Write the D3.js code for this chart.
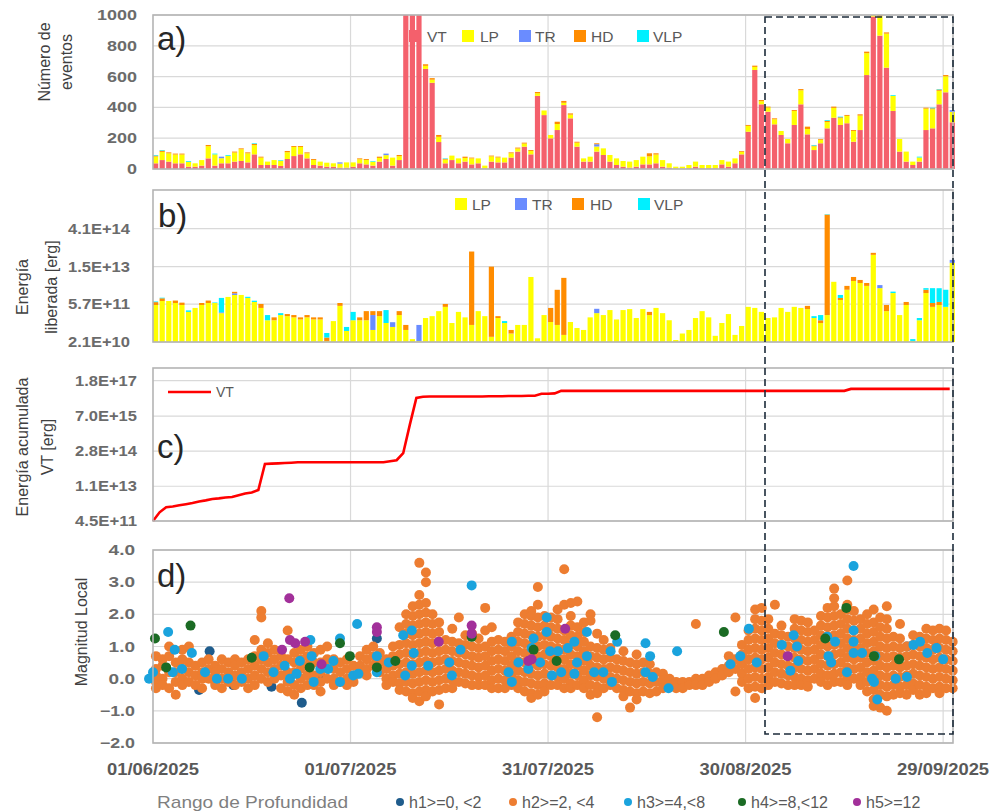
<!DOCTYPE html>
<html>
<head>
<meta charset="utf-8">
<script src="https://cdn.jsdelivr.net/npm/d3@7"></script>
<style>
  body { margin: 0; background: #fff; }
  text { font-family: "Liberation Sans", Arial, sans-serif; }
</style>
</head>
<body>
<svg id="chart" width="997" height="812"></svg>
<script>
// ---- data ----
// one entry per day, starting 01/06/2025
var startDay = new Date(2025, 5, 1);
var dateTicks = ["01/06/2025", "01/07/2025", "31/07/2025", "30/08/2025", "29/09/2025"];

// a) number of events per day
var vtCount = [37,58,48,37,37,15,15,22,69,22, 37,37,48,52,43,95,26,26,26,20,
  65,84,95,69,26,22,15,15,9,9, 15,37,30,22,48,65,22,58,1380,1330,
  1180,650,560,175,37,58,37,48,30,37, 4,48,43,43,74,113,145,95,475,350,
  199,253,415,329,145,48,48,113,91,48, 26,15,9,15,30,30,37,15,9,4,
  3,5,15,5,5,5,30,15,37,95, 242,643,420,372,290,221,167,286,420,225,
  123,167,264,333,286,297,177,253,610,990, 866,658,377,113,48,26,48,253,264,420,
  498,303];
var lpCount = [44,53,54,57,57,32,22,36,79,73, 33,49,59,76,59,60,48,22,32,34,
  44,59,48,33,33,26,26,22,26,34, 28,26,29,26,24,25,52,25,20,20,
  20,20,20,34,24,29,32,24,39,32, 18,34,32,31,28,20,20,22,17,30,
  22,39,15,24,26,21,32,33,43,43, 43,37,39,43,50,52,57,43,28,11,
  12,21,33,21,21,21,28,33,32,17, 38,20,20,27,33,26,28,91,91,35,
  24,23,41,64,44,48,70,94,142,30, 126,221,98,82,65,22,27,139,124,88,
  104,68];
// sparse [day, count]
var trCount = [[10,10],[28,8],[35,10],[67,15],[121,12]];
var hdCount = [[0,6],[1,8],[2,6],[3,6],[4,6],[8,8],[12,6],[13,6],[14,6],[15,8],[16,6],
  [20,8],[21,6],[22,6],[23,6],[24,6],[31,6],[32,6],[34,8],[37,8],[41,10],[42,10],[43,12],
  [44,5],[47,8],[48,5],[51,5],[52,5],[54,6],[55,6],[56,6],[57,6],[58,8],[61,15],[62,12],
  [63,8],[64,6],[67,6],[75,20],[76,8],[89,5],[90,6],[91,8],[92,8],[93,6],[94,6],[97,6],
  [98,8],[99,15],[100,5],[101,5],[102,8],[103,8],[104,6],[105,6],[106,6],[107,8],[108,10],
  [110,8],[111,8],[117,6],[118,6],[119,8],[120,8]];
var vlpCount = [[0,4],[1,4],[5,5],[9,5],[11,5],[15,4],[19,4],[33,4],[44,3],[100,4],
  [102,5],[104,4],[112,5],[116,5],[118,4],[119,3]];

// b) released energy per day [erg]
var lpEnergy = [5.3e11,7.5e11,7.5e11,6.3e11,5.3e11,2.9e11,4.1e11,5.3e11,6.3e11,6.3e11,
  2.6e11,1.07e12,1.27e12,1.27e12,9.8e11,6.9e11,4.1e11,1.4e11,1.4e11,2.2e11,
  2.0e11,1.8e11,1.5e11,1.8e11,1.5e11,1.5e11,2.3e10,1.3e11,4.9e11,5.5e10,
  1.4e11,1.4e11,1.4e11,6.0e10,2.0e11,1.1e11,7.8e10,2.2e11,6.0e10,2.7e10,
  2.3e10,1.7e11,2.0e11,3.1e11,4.5e11,1.1e11,2.9e11,1.8e11,9.3e10,3.1e11,
  2.0e11,3.3e10,1.7e11,1.1e11,4.4e10,9.3e10,9.3e10,6.1e12,2.9e10,2.2e11,
  1.2e11,9.3e10,3.9e10,1.2e11,7.1e10,6.0e10,1.8e11,2.6e11,2.2e11,3.4e11,
  1.5e11,3.4e11,3.7e11,1.7e11,3.7e11,2.2e11,4.1e11,2.6e11,1.4e11,2.5e10,
  4.4e10,6.0e10,1.7e11,3.1e11,1.8e11,3.6e10,1.1e11,2.4e11,3.9e10,8.5e10,
  4.5e11,4.1e11,2.9e11,1.7e11,1.8e11,4.1e11,2.9e11,4.5e11,4.1e11,3.7e11,
  1.7e11,1.1e11,2.2e11,4.0e12,8.2e11,2.0e12,4.3e12,3.6e12,2.8e12,4.2e13,
  2.3e12,3.1e11,1.5e12,2.2e11,5.3e11,2.3e10,1.4e11,1.5e12,4.5e11,5.3e11,
  4.5e11,2.1e13];
var trEnergy = [[10,2e10],[12,2e11],[33,1.6e11],[36,4e10],[40,7e10],[67,1.2e11],[110,7e11],[121,6e12]];
var hdEnergy = [[0,1.5e11],[1,2.0e11],[3,1.5e11],[4,1.2e11],[7,1.0e11],[8,1.5e11],[12,2.0e11],
  [16,1.7e11],[18,4e10],[20,4e10],[21,4e10],[22,3e10],[23,4e10],[24,3e10],[25,3e10],[26,8e9],
  [28,1.4e11],[31,4e10],[32,1.7e11],[33,9e10],[34,1.1e11],[37,9e10],[38,3.3e10],[44,1.3e11],
  [48,5.6e13],[51,1.5e13],[52,3e10],[54,1.6e10],[60,2.9e11],[61,1.9e12],[62,5.6e12],[75,7e10],
  [99,1.2e11],[101,3e10],[102,1.4e15],[104,1.6e11],[105,8e11],[106,1.8e12],[107,1.1e12],
  [108,8e11],[109,8e12],[111,2.2e11],[114,1.6e11],[117,5e11],[118,1.8e11],[119,1.6e11]];
var vlpEnergy = [[0,4e10],[1,5e10],[5,4e10],[9,3e10],[10,7.0e11],[14,1e11],[15,8e10],[17,8e10],
  [19,4e10],[26,1.5e10],[29,2.3e10],[30,1.5e11],[35,2.3e11],[53,2e10],[100,3e10],[101,8e10],
  [102,5e13],[104,2.9e11],[112,2e11],[115,4e9],[116,3e10],[117,3e11],[118,1.67e12],
  [119,1.6e12],[120,1.55e12]];

// c) accumulated VT energy [erg]
var vtCumulative = [4.5e11,1.0e12,1.6e12,1.7e12,1.9e12,2.1e12,2.35e12,2.7e12,3.0e12,3.4e12,
  3.6e12,3.9e12,4.1e12,4.8e12,5.6e12,6.2e12,7.8e12,8.5e13,8.8e13,9.0e13,
  9.3e13,9.6e13,1.0e14,1.0e14,1.0e14,1.0e14,1.0e14,1.0e14,1.0e14,1.0e14,
  1.0e14,1.0e14,1.0e14,1.0e14,1.0e14,1.0e14,1.1e14,1.2e14,2.3e14,3.1e15,
  3.7e16,4.1e16,4.2e16,4.2e16,4.2e16,4.2e16,4.2e16,4.2e16,4.2e16,4.2e16,
  4.2e16,4.3e16,4.3e16,4.3e16,4.4e16,4.4e16,4.4e16,4.5e16,4.5e16,5.4e16,
  5.4e16,5.6e16,7.1e16,7.1e16,7.1e16,7.1e16,7.1e16,7.1e16,7.1e16,7.1e16,
  7.1e16,7.1e16,7.1e16,7.1e16,7.1e16,7.1e16,7.1e16,7.1e16,7.1e16,7.1e16,
  7.1e16,7.1e16,7.1e16,7.1e16,7.1e16,7.1e16,7.1e16,7.1e16,7.1e16,7.1e16,
  7.1e16,7.1e16,7.1e16,7.1e16,7.1e16,7.1e16,7.1e16,7.1e16,7.1e16,7.1e16,
  7.1e16,7.1e16,7.1e16,7.1e16,7.1e16,7.1e16,8.5e16,8.5e16,8.5e16,8.5e16,
  8.5e16,8.5e16,8.5e16,8.5e16,8.5e16,8.5e16,8.5e16,8.5e16,8.5e16,8.5e16,
  8.5e16,8.5e16];

// d) local magnitude, h2 (2-4 km) by day
var h2Mag = [
  [0.7,0.3,0.1,-0.1,-0.3],[0.6,0.4,0.0,-0.2],[1.0,0.7,0.2,-0.3],[0.5,0.2,-0.1,-0.5],[0.9,0.6,0.3,0.0,-0.2],
  [1.0,0.5,0.2,-0.1],[0.4,0.1,-0.2],[0.5,0.2,0.0,-0.3],[0.6,0.3,0.0],[0.4,0.2,-0.1,-0.2],
  [0.6,0.3,0.0,-0.3],[0.5,0.2,-0.1],[0.6,0.4,0.1,-0.2],[0.5,0.2,-0.1],[0.6,0.3,0.0,-0.3],
  [1.2,0.7,0.4,0.1,-0.2],[2.1,1.9,0.9,0.6,0.3,0.0],[1.1,0.8,0.5,0.2,-0.1],[0.9,0.6,0.3,0.0],[0.7,0.4,0.1,-0.3],
  [1.5,0.6,0.2,-0.1,-0.4],[0.8,0.5,0.2,-0.2,-0.5],[0.9,0.6,0.3,0.0,-0.3],[1.0,0.7,0.4,0.1,-0.2],[0.8,0.5,0.1,-0.2],
  [0.9,0.5,0.2,-0.1,-0.4],[1.0,0.6,0.3,0.0],[0.6,0.3,0.0,-0.2],[0.5,0.2,-0.1],[0.6,0.3,0.0,-0.2],
  [0.4,0.1,-0.1],[0.7,0.4,0.2],[0.9,0.6,0.3,0.1],[1.0,0.7,0.4],[0.8,0.5,0.2],
  [0.6,0.3,0.0,-0.2],[1.0,0.7,0.4,0.1,-0.1],[1.6,1.05,0.75,0.45,0.15,-0.15,-0.35],
  [2.0,1.7,1.4,1.1,0.8,0.5,0.2,-0.1,-0.4],[2.25,1.95,1.65,1.35,1.05,0.75,0.45,0.15,-0.15,-0.45,-0.6],
  [3.6,2.6,2.3,2.0,1.7,1.4,1.1,0.8,0.5,0.2,-0.1,-0.4,-0.7],[3.3,3.0,2.35,2.05,1.75,1.45,1.15,0.85,0.55,0.25,-0.05,-0.35,-0.55],
  [2.0,1.7,1.4,1.1,0.8,0.5,0.2,-0.1,-0.4],[1.75,1.45,1.15,0.85,0.55,0.25,-0.05,-0.35,-0.8],[1.2,0.9,0.6,0.3,0.0,-0.3],
  [1.55,1.15,0.85,0.55,0.25,-0.05,-0.3],[1.9,1.1,0.8,0.5,0.2,-0.1],[1.35,1.05,0.75,0.45,0.15,-0.15],[1.4,1.0,0.7,0.4,0.1,-0.2],
  [1.25,0.95,0.65,0.35,0.05,-0.2],[2.2,1.5,1.0,0.7,0.4,0.1,-0.2],[1.6,1.15,0.85,0.55,0.25,-0.05,-0.3],[1.2,0.9,0.6,0.3,0.0,-0.3],
  [1.15,0.85,0.55,0.25,-0.05,-0.3],[1.3,1.0,0.7,0.4,0.1,-0.2],[1.75,1.45,1.15,0.85,0.55,0.25,-0.05,-0.3],
  [2.0,1.7,1.4,1.1,0.8,0.5,0.2,-0.1,-0.4],[2.1,1.95,1.65,1.35,1.05,0.75,0.45,0.15,-0.15,-0.45,-0.6],
  [2.85,2.3,1.9,1.6,1.3,1.0,0.7,0.4,0.1,-0.2,-0.5],[1.95,1.65,1.35,1.05,0.75,0.45,0.15,-0.15,-0.4],
  [1.9,1.6,1.3,1.0,0.7,0.4,0.1,-0.2],[2.15,1.85,1.55,1.25,0.95,0.65,0.35,0.05,-0.2],[3.4,2.3,1.5,1.2,0.9,0.6,0.3,0.0,-0.3],
  [2.35,1.95,1.65,1.35,1.05,0.75,0.45,0.15,-0.15,-0.3],[2.4,1.6,1.3,1.0,0.7,0.4,0.1,-0.2],[1.75,1.45,1.15,0.85,0.55,0.25,-0.05,-0.3],
  [2.0,1.8,1.0,0.7,0.4,0.1,-0.2,-0.5],[1.4,0.95,0.65,0.35,0.05,-0.25,-0.45,-1.2],[1.2,0.9,0.6,0.3,0.0,-0.3],
  [0.95,0.65,0.35,0.05,-0.2],[0.6,0.3,0.0,-0.3],[0.85,0.55,0.25,-0.05,-0.35,-0.55],[0.5,0.2,-0.1,-0.4,-0.9],[0.75,0.45,0.15,-0.15,-0.45,-0.65],
  [0.5,0.2,-0.1,-0.4],[0.45,0.15,-0.15,-0.45],[0.2,-0.1,-0.4],[0.15,-0.05,-0.3],[0.0,-0.2],
  [-0.1,-0.3],[-0.1,-0.3],[-0.1,-0.2],[1.7,0.0,-0.2],[0.0,-0.2],
  [0.1,-0.1],[0.2,0.0],[0.3,0.1],[0.7,0.4,0.2],[1.9,0.6,0.3,-0.4],
  [1.05,0.75,0.45,0.15,-0.1],[1.5,1.2,0.9,0.6,0.3,0.0,-0.3],[2.15,1.85,1.55,1.25,0.95,0.65,0.35,0.05,-0.25,-0.6],
  [2.2,1.8,1.5,1.2,0.9,0.6,0.3,0.0,-0.3],[1.85,1.55,1.25,0.95,0.65,0.35,0.05,-0.2],[2.3,1.4,1.1,0.8,0.5,0.2,-0.1],
  [1.65,1.35,1.05,0.75,0.45,0.15,-0.15],[1.3,1.0,0.7,0.4,0.1,-0.2],[1.85,1.55,1.25,0.95,0.65,0.35,0.05,-0.2],
  [1.8,1.5,1.2,0.9,0.6,0.3,0.0,-0.2],[1.75,1.45,1.15,0.85,0.55,0.25,-0.05,-0.25],[1.5,1.2,0.9,0.6,0.3,0.0],
  [1.95,1.65,1.35,1.05,0.75,0.45,0.15,-0.1],[2.2,1.9,1.6,1.3,1.0,0.7,0.4,0.1,-0.2],[2.8,2.5,2.25,1.95,1.65,1.35,1.05,0.75,0.45,0.15,-0.1],
  [2.0,1.7,1.4,1.1,0.8,0.5,0.2,-0.1],[3.05,2.3,2.15,1.85,1.55,1.25,0.95,0.65,0.35,0.05,-0.2],[2.1,1.8,1.5,1.2,0.9,0.6,0.3,0.0],
  [1.85,1.55,1.25,0.95,0.65,0.35,0.05,-0.2],[2.0,1.7,1.4,1.1,0.8,0.5,0.2,-0.1,-0.4],[2.15,1.75,1.45,1.15,0.85,0.55,0.25,-0.05,-0.35,-0.65,-0.85],
  [1.9,1.6,1.3,1.0,0.7,0.4,0.1,-0.2,-0.5,-0.9],[2.25,1.85,1.55,1.25,0.95,0.65,0.35,0.05,-0.25,-0.55,-1.0],[1.3,1.0,0.7,0.4,0.1,-0.2,-0.5],
  [1.7,1.25,0.95,0.65,0.35,0.05,-0.25,-0.45],[1.0,0.7,0.4,0.1,-0.2,-0.5],[1.35,1.05,0.75,0.45,0.15,-0.15,-0.35],
  [1.3,1.0,0.7,0.4,0.1,-0.2,-0.5],[1.55,1.25,0.95,0.65,0.35,0.05,-0.25,-0.45],[1.5,1.2,0.9,0.6,0.3,0.0,-0.3],
  [1.55,1.25,0.95,0.65,0.35,0.05,-0.25,-0.45],[1.5,1.2,0.9,0.6,0.3,0.0,-0.3],[1.15,0.85,0.55,0.25,-0.05,-0.3]
];
// other depth ranges: [day offset, magnitude]
var h1Mag = [[7,-0.35],[8.6,0.85],[12.2,-0.2],[18,-0.25],[22.6,-0.75],[25.4,0.1],[34,1.25],[114.5,1.0],[119,1.0]];
var h3Mag = [[-0.6,0.0],[0,0.2],[2.3,1.45],[3.3,0.9],[3,0.2],[4.4,0.3],[5.9,0.8],[7.9,0.2],[9.7,0.0],[11.4,0.0],
  [13.5,0.0],[16.8,0.7],[18.3,0.2],[20,0.4],[20.8,0.0],[21.8,0.15],[22.3,0.55],[23.9,1.2],[24.1,0.7],[24.4,-0.1],
  [25.4,0.3],[26.6,0.3],[27.4,0.55],[28.4,1.25],[28.4,-0.1],[30.4,0.1],[31,1.7],[31.2,0.15],[34,0.7],[34,0.2],
  [35.8,0.5],[38,1.35],[39.3,1.5],[39.6,0.8],[39.3,0.4],[38.3,0.1],[41.8,0.4],[45,0.5],[45.4,0.1],[46.7,0.9],
  [48.4,2.9],[54.5,1.15],[59.8,1.9],[59.8,1.45],[57.8,1.25],[57.5,0.95],[60.3,0.85],[61.5,0.85],[58.8,0.5],[55.5,0.5],
  [54,0.2],[54.5,-0.1],[57,0.3],[60.6,0.1],[62,0.2],[63,0.95],[64,1.15],[64.4,0.5],[64,0.15],[65.9,1.45],
  [65.9,0.7],[67,0.2],[68.4,0.2],[69.5,0.85],[69.7,-0.1],[70.5,1.15],[74.8,1.1],[75.5,0.7],[74.8,0.2],[75.9,0.05],
  [78.3,-0.3],[79.6,0.85],[87.7,0.45],[89.2,0.7],[90.5,1.55],[91.7,0.5],[95.5,1.05],[97.3,1.35],[97.8,1.0],[98,0.55],
  [96.8,0.25],[102.4,1.3],[103.6,1.15],[102.6,0.7],[103,0.5],[105.4,0.2],[106.4,3.5],[106.4,1.5],[106.4,1.15],[106.4,0.8],
  [107.7,0.8],[109.2,0.0],[109.5,-0.1],[110,-0.65],[109.7,0.7],[112.8,0.0],[114.5,0.05],[115.5,1.05],[116.5,1.15],[117.6,0.8],
  [119,0.95],[120,0.6]];
var h4Mag = [[0.3,1.25],[2,0.35],[5.7,1.65],[15,0.65],[23.8,0.35],[28.4,1.1],[29.9,0.7],[34,0.35],[36.8,0.55],[48.4,1.3],
  [57.8,0.9],[61.3,0.55],[70.2,1.35],[86.7,1.45],[102.1,1.25],[105.3,2.2],[109.5,0.7],[113.3,0.6]];
var h5Mag = [[20.7,2.5],[19.6,0.9],[20.8,1.2],[21.6,1.1],[23.1,1.15],[25.6,0.45],[34,1.6],[34,1.45],[43.4,1.15],
  [48.4,1.65],[48.4,1.4],[62.6,1.55],[57,0.55],[57.5,0.6],[96.4,0.7]];

var depthLegend = ["h1>=0, <2", "h2>=2, <4", "h3>=4,<8", "h4>=8,<12", "h5>=12"];

// ---- setup ----
var svg = d3.select("#chart");
var nDays = vtCount.length;
var days = d3.range(nDays).map(function(i) { return d3.timeDay.offset(startDay, i); });
var parseTick = d3.timeParse("%d/%m/%Y");
var tickDates = dateTicks.map(parseTick);
var plotLeft = 153, plotRight = 953;

var x = d3.scaleTime()
	.domain([startDay, new Date(2025, 8, 30, 12)])
	.range([plotLeft, plotRight]);
function xDay(d) { return x(new Date(startDay.getTime() + d * 864e5)); }
var barW = 5.2;

var colors = { vt: "#f4606c", lp: "#ffff00", tr: "#6a8cff", hd: "#ff8c00", vlp: "#00f0ff" };
var depthColors = ["#1f5c8c", "#ed7d31", "#1aa3dd", "#1b6b24", "#a2309a"];
var grey = "#595959";

function sparse(pairs) {
	var out = d3.range(nDays).map(function() { return 0; });
	pairs.forEach(function(p) { out[p[0]] = p[1]; });
	return out;
}

// frame + grid for one panel
function panel(top, bottom, y, ticks, fmt, labelEnd, labelW) {
	var g = svg.append("g");
	// horizontal grid
	g.selectAll(".hg").data(ticks).enter().append("line")
		.attr("x1", plotLeft).attr("x2", plotRight)
		.attr("y1", function(d) { return y(d); }).attr("y2", function(d) { return y(d); })
		.attr("stroke", "#d9d9d9").attr("stroke-width", 1.2);
	// vertical grid at date ticks
	g.selectAll(".vg").data(tickDates.slice(1)).enter().append("line")
		.attr("x1", function(d) { return x(d); }).attr("x2", function(d) { return x(d); })
		.attr("y1", top).attr("y2", bottom)
		.attr("stroke", "#d9d9d9").attr("stroke-width", 1.2);
	// tick labels
	g.selectAll(".tl").data(ticks).enter().append("text")
		.attr("x", labelEnd).attr("y", function(d) { return y(d) + 5; })
		.attr("text-anchor", "end")
		.attr("textLength", function(d) { return labelW(fmt(d)); })
		.attr("lengthAdjust", "spacingAndGlyphs")
		.style("font-size", "14px").style("font-weight", "bold").style("fill", "#6b6b6b")
		.text(fmt);
	return g;
}
function border(top, bottom) {
	svg.append("rect")
		.attr("x", plotLeft).attr("y", top)
		.attr("width", plotRight - plotLeft).attr("height", bottom - top)
		.attr("fill", "none").attr("stroke", "#b4b4b4").attr("stroke-width", 1.6);
}
function vtitle(cx, cy, str, size) {
	svg.append("text")
		.attr("transform", "translate(" + cx + "," + cy + ") rotate(-90)")
		.attr("text-anchor", "middle").attr("dominant-baseline", "central")
		.style("font-size", size + "px").style("fill", "#404040")
		.text(str);
}
function tag(px, py, str) {
	svg.append("text").attr("x", px).attr("y", py)
		.style("font-size", "33px").style("fill", "#262626").text(str);
}
function legendItem(mx, my, color, tx, str) {
	svg.append("rect").attr("x", mx).attr("y", my - 6).attr("width", 12).attr("height", 12).attr("fill", color);
	svg.append("text").attr("x", tx).attr("y", my + 6)
		.style("font-size", "15.5px").style("fill", grey).text(str);
}
var sciFmt = function(v) {
	var e = Math.floor(Math.log10(v) + 1e-9);
	var m = v / Math.pow(10, e);
	return m.toFixed(1) + "E+" + (e < 10 ? "0" + e : e);
};

// ---- a) number of events ----
var yA = d3.scaleLinear().domain([0, 1000]).range([169, 15]).clamp(true);
panel(15, 169, yA, [0, 200, 400, 600, 800, 1000], d3.format("d"), 137,
	function(s) { return s.length * 10; });

var trA = sparse(trCount), hdA = sparse(hdCount), vlpA = sparse(vlpCount);
var rowsA = days.map(function(d, i) {
	return { date: d, vt: vtCount[i], lp: lpCount[i], tr: trA[i], hd: hdA[i], vlp: vlpA[i] };
});
var keys = ["vt", "lp", "tr", "hd", "vlp"];
var stackA = d3.stack().keys(keys)(rowsA);
svg.append("g").selectAll("g").data(stackA).enter().append("g")
	.attr("fill", function(s) { return colors[s.key]; })
	.selectAll("rect").data(function(s) { return s; }).enter().append("rect")
		.attr("x", function(d) { return x(d.data.date); })
		.attr("width", barW)
		.attr("y", function(d) { return yA(d[1]); })
		.attr("height", function(d) { return Math.max(0, yA(d[0]) - yA(d[1])); });
border(15, 169);

// ---- b) released energy ----
var yB = d3.scaleLog().domain([2.1e10, 1.2e16]).range([342, 190]);
panel(190, 342, yB, [2.1e10, 5.7e11, 1.5e13, 4.1e14], sciFmt, 130,
	function() { return 62; });

var energy = { lp: lpEnergy, tr: sparse(trEnergy), hd: sparse(hdEnergy), vlp: sparse(vlpEnergy) };
var segB = [];
days.forEach(function(d, i) {
	var cum = 0;
	["lp", "tr", "hd", "vlp"].forEach(function(k) {
		var v = energy[k][i];
		if (v > 0) {
			segB.push({ date: d, key: k, y0: cum, y1: cum + v });
			cum += v;
		}
	});
});
svg.append("g").selectAll("rect").data(segB).enter().append("rect")
	.attr("x", function(d) { return x(d.date); })
	.attr("width", barW)
	.attr("y", function(d) { return yB(d.y1); })
	.attr("height", function(d) { return Math.max(0, (d.y0 > 0 ? yB(d.y0) : 342) - yB(d.y1)); })
	.attr("fill", function(d) { return colors[d.key]; });
border(190, 342);

// ---- c) accumulated VT energy ----
var yC = d3.scaleLog().domain([4.5e11, 5.8e17]).range([521, 368]);
panel(368, 521, yC, [4.5e11, 1.1e13, 2.8e14, 7.0e15, 1.8e17], sciFmt, 137,
	function() { return 62; });
var lineC = d3.line()
	.x(function(d, i) { return x(days[i]); })
	.y(function(d) { return yC(d); });
svg.append("path").datum(vtCumulative)
	.attr("d", lineC)
	.attr("fill", "none").attr("stroke", "#ff0000").attr("stroke-width", 2.6);
border(368, 521);

// ---- d) local magnitude ----
var yD = d3.scaleLinear().domain([-2, 4]).range([743, 550]);
panel(550, 743, yD, [-2, -1, 0, 1, 2, 3, 4], d3.format(".1f"), 135,
	function(s) { return s.length * 8.8; });

var points = [];
h1Mag.forEach(function(p) { points.push({ day: p[0], m: p[1], c: 0 }); });
h2Mag.forEach(function(list, i) {
	list.forEach(function(m) { points.push({ day: i + 0.45, m: m, c: 1 }); });
});
h3Mag.forEach(function(p) { points.push({ day: p[0], m: p[1], c: 2 }); });
h4Mag.forEach(function(p) { points.push({ day: p[0], m: p[1], c: 3 }); });
h5Mag.forEach(function(p) { points.push({ day: p[0], m: p[1], c: 4 }); });
svg.append("g").selectAll("circle").data(points).enter().append("circle")
	.attr("cx", function(d) { return xDay(d.day); })
	.attr("cy", function(d) { return yD(d.m); })
	.attr("r", 5)
	.attr("fill", function(d) { return depthColors[d.c]; });
border(550, 743);

// date labels
svg.append("g").selectAll("text").data(tickDates).enter().append("text")
	.attr("x", function(d) { return x(d); }).attr("y", 775)
	.attr("text-anchor", "middle")
	.attr("textLength", 92).attr("lengthAdjust", "spacingAndGlyphs")
	.style("font-size", "17px").style("font-weight", "bold").style("fill", grey)
	.text(function(d, i) { return dateTicks[i]; });

// dashed highlight box
svg.append("rect")
	.attr("x", 765).attr("y", 17).attr("width", plotRight - 765).attr("height", 734 - 17)
	.attr("fill", "none").attr("stroke", "#1c2b3a").attr("stroke-width", 1.6)
	.attr("stroke-dasharray", "7,4");

// ---- titles, tags, legends ----
vtitle(44, 62, "Número de", 16);
vtitle(66, 62, "eventos", 16);
vtitle(22, 287, "Energía", 16);
vtitle(51, 287, "liberada [erg]", 16);
vtitle(22, 447, "Energía acumulada", 16);
vtitle(47, 447, "VT [erg]", 16);
vtitle(81, 632, "Magnitud Local", 16);

tag(157, 50, "a)");
tag(158, 227, "b)");
tag(157, 458, "c)");
tag(157, 587, "d)");

legendItem(409, 36, colors.vt, 427, "VT");
legendItem(462, 36, colors.lp, 480, "LP");
legendItem(519, 36, colors.tr, 535, "TR");
legendItem(574, 36, colors.hd, 591, "HD");
legendItem(637, 36, colors.vlp, 653, "VLP");

legendItem(455, 204, colors.lp, 472, "LP");
legendItem(515, 204, colors.tr, 532, "TR");
legendItem(572, 204, colors.hd, 590, "HD");
legendItem(638, 204, colors.vlp, 654, "VLP");

svg.append("line").attr("x1", 168).attr("x2", 211).attr("y1", 392).attr("y2", 392)
	.attr("stroke", "#ff0000").attr("stroke-width", 2.6);
svg.append("text").attr("x", 216).attr("y", 397)
	.style("font-size", "14px").style("fill", grey).text("VT");

svg.append("text").attr("x", 157).attr("y", 808)
	.attr("textLength", 191).attr("lengthAdjust", "spacingAndGlyphs")
	.style("font-size", "17px").style("fill", "#7f7f7f").text("Rango de Profundidad");
var legX = [400, 513, 628, 742, 857];
depthLegend.forEach(function(s, i) {
	svg.append("circle").attr("cx", legX[i]).attr("cy", 802).attr("r", 4).attr("fill", depthColors[i]);
	svg.append("text").attr("x", legX[i] + 9).attr("y", 807.5)
		.style("font-size", "16px").style("fill", grey).text(s);
});
</script>
</body>
</html>
